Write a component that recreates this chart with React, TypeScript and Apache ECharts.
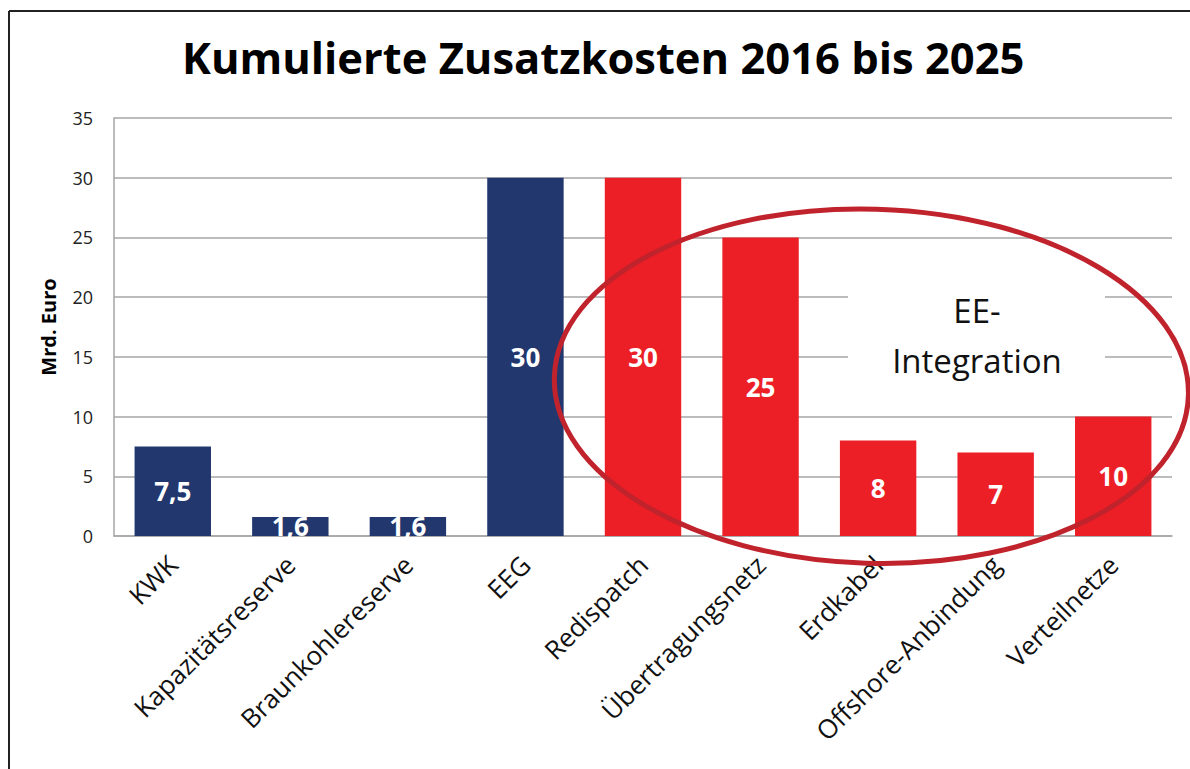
import React, { useEffect, useRef } from "react";
import * as echarts from "echarts";

const categories = [
  "KWK",
  "Kapazitätsreserve",
  "Braunkohlereserve",
  "EEG",
  "Redispatch",
  "Übertragungsnetz",
  "Erdkabel",
  "Offshore-Anbindung",
  "Verteilnetze",
];
const values = [7.5, 1.6, 1.6, 30, 30, 25, 8, 7, 10];
const groups = ["blue", "blue", "blue", "blue", "red", "red", "red", "red", "red"];
const titleText = "Kumulierte Zusatzkosten 2016 bis 2025";
const axisName = "Mrd. Euro";
const noteLines = ["EE-", "Integration"];

const NAVY = "#22376E";
const RED = "#EC1F26";
const FONT = "'Open Sans', Lato, sans-serif";

export default function App() {
  const ref = useRef<HTMLDivElement>(null);
  useEffect(() => {
    document.body.style.margin = "0";
    if (!ref.current) return;
    const chart = echarts.init(ref.current, null, { renderer: "svg" });
    chart.setOption({
      animation: false,
      backgroundColor: "#ffffff",
      textStyle: { fontFamily: FONT },
      title: {
        text: titleText,
        left: 177,
        top: 30,
        textStyle: { fontSize: 43.5, fontWeight: "bold", color: "#000", fontFamily: FONT },
      },
      grid: { left: 114, right: 18, top: 118, bottom: 233, containLabel: false },
      xAxis: {
        type: "category",
        data: categories,
        axisTick: { show: false },
        axisLine: { show: true, lineStyle: { color: "#A6A6A6", width: 1.5 } },
        axisLabel: {
          interval: 0,
          rotate: 45,
          margin: 24,
          fontSize: 26,
          color: "#111",
          fontFamily: FONT,
        },
      },
      yAxis: {
        type: "value",
        min: 0,
        max: 35,
        interval: 5,
        name: axisName,
        nameLocation: "middle",
        nameRotate: 90,
        nameGap: 56,
        nameTextStyle: { fontSize: 20, fontWeight: "bold", color: "#000", fontFamily: FONT },
        axisLine: { show: true, lineStyle: { color: "#A6A6A6", width: 1.5 } },
        axisTick: { show: false },
        axisLabel: { fontSize: 18, color: "#222", margin: 21, fontFamily: FONT },
        splitLine: { lineStyle: { color: "#A6A6A6", width: 1.5 } },
      },
      series: [
        {
          type: "bar",
          barWidth: "65%",
          data: values.map((v, i) => ({
            value: v,
            itemStyle: { color: groups[i] === "blue" ? NAVY : RED },
          })),
          label: {
            show: true,
            position: "inside",
            color: "#fff",
            fontSize: 26,
            fontWeight: "bold",
            fontFamily: FONT,
            formatter: (p: any) => String(p.value).replace(".", ","),
          },
        },
      ],
      graphic: [
        {
          type: "line",
          z: 200,
          shape: { x1: 9, y1: 11, x2: 1190, y2: 11 },
          style: { stroke: "#222", lineWidth: 2 },
        },
        {
          type: "line",
          z: 200,
          shape: { x1: 9, y1: 11, x2: 9, y2: 769 },
          style: { stroke: "#222", lineWidth: 2 },
        },
        {
          type: "rect",
          z: 150,
          shape: { x: 848, y: 268, width: 257, height: 122 },
          style: { fill: "#fff" },
        },
        {
          type: "text",
          z: 151,
          x: 977,
          y: 310,
          style: {
            text: noteLines[0],
            fontSize: 33,
            fontFamily: FONT,
            fill: "#111",
            align: "center",
            verticalAlign: "middle",
          },
        },
        {
          type: "text",
          z: 151,
          x: 977,
          y: 360,
          style: {
            text: noteLines[1],
            fontSize: 33,
            fontFamily: FONT,
            fill: "#111",
            align: "center",
            verticalAlign: "middle",
          },
        },
        {
          type: "ellipse",
          z: 160,
          shape: { cx: 871, cy: 386, rx: 317, ry: 177 },
          rotation: -0.03,
          originX: 871,
          originY: 386,
          style: { fill: "none", stroke: "#C1232D", lineWidth: 5 },
        },
      ],
    });
    return () => chart.dispose();
  }, []);
  return <div ref={ref} style={{ width: 1190, height: 769 }} />;
}
